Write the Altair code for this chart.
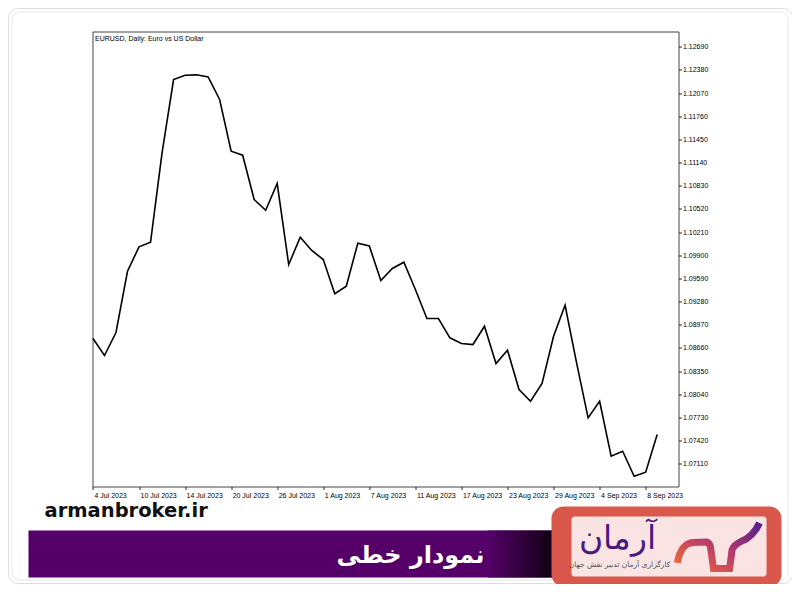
import altair as alt
import pandas as pd

# ---------------- data ----------------
dates = [
    "4 Jul 2023", "5 Jul 2023", "6 Jul 2023", "7 Jul 2023", "10 Jul 2023",
    "11 Jul 2023", "12 Jul 2023", "13 Jul 2023", "14 Jul 2023", "17 Jul 2023",
    "18 Jul 2023", "19 Jul 2023", "20 Jul 2023", "21 Jul 2023", "24 Jul 2023",
    "25 Jul 2023", "26 Jul 2023", "27 Jul 2023", "28 Jul 2023", "31 Jul 2023",
    "1 Aug 2023", "2 Aug 2023", "3 Aug 2023", "4 Aug 2023", "7 Aug 2023",
    "8 Aug 2023", "9 Aug 2023", "10 Aug 2023", "11 Aug 2023", "14 Aug 2023",
    "15 Aug 2023", "16 Aug 2023", "17 Aug 2023", "18 Aug 2023", "21 Aug 2023",
    "22 Aug 2023", "23 Aug 2023", "24 Aug 2023", "25 Aug 2023", "28 Aug 2023",
    "29 Aug 2023", "30 Aug 2023", "31 Aug 2023", "1 Sep 2023", "4 Sep 2023",
    "5 Sep 2023", "6 Sep 2023", "7 Sep 2023", "8 Sep 2023", "11 Sep 2023",
]
closes = [
    1.08786, 1.08558, 1.08866, 1.09686, 1.10013, 1.10075, 1.11271, 1.12252,
    1.12310, 1.12315, 1.12288, 1.11985, 1.11293, 1.11239, 1.10646, 1.10503,
    1.10860, 1.09776, 1.10142, 1.09964, 1.09843, 1.09385, 1.09486, 1.10061,
    1.10024, 1.09562, 1.09723, 1.09807, 1.09441, 1.09053, 1.09053, 1.08795,
    1.08719, 1.08705, 1.08950, 1.08451, 1.08629, 1.08103, 1.07946, 1.08183,
    1.08816, 1.09231, 1.08460, 1.07724, 1.07946, 1.07210, 1.07277, 1.06942,
    1.06996, 1.07501,
]
y_ticks = [1.07110, 1.07420, 1.07730, 1.08040, 1.08350, 1.08660, 1.08970,
           1.09280, 1.09590, 1.09900, 1.10210, 1.10520, 1.10830, 1.11140,
           1.11450, 1.11760, 1.12070, 1.12380, 1.12690]
x_tick_idx = list(range(0, 49, 4))
x_tick_labels = [dates[i] for i in x_tick_idx]

title_text = "EURUSD, Daily:  Euro vs US Dollar"
site_text = "armanbroker.ir"
banner_text = "نمودار خطی"
brand_text = "آرمان"
brand_sub = "کارگزاری آرمان تدبیر نقش جهان"

df = pd.DataFrame({"idx": list(range(len(closes))), "date": dates, "close": closes})

W, H = 586, 455
AXFONT = "Liberation Sans"

label_arr = "[" + ",".join("'" + s + "'" for s in x_tick_labels) + "]"

one = pd.DataFrame({"k": [0]})

def box(x, x2, y, y2, **kw):
    return alt.Chart(one).mark_rect(**kw).encode(
        x=alt.value(x), x2=alt.value(x2), y=alt.value(y), y2=alt.value(y2))

def txt(text, x, y, **kw):
    return alt.Chart(pd.DataFrame({"t": [text]})).mark_text(**kw).encode(
        text="t:N", x=alt.value(x), y=alt.value(y))

# page frame (double light-gray rounded border)
frame_outer = box(-84, 700.5, -23, 552, fill="transparent",
                  stroke="#dcdcdc", strokeWidth=1, cornerRadius=10)
frame_inner = box(-80.5, 695.5, -19.5, 548.5, fill="transparent",
                  stroke="#e6e6e6", strokeWidth=1, cornerRadius=8)

# site text
site = txt(site_text, -48, 485, font="DejaVu Sans", fontWeight="bold",
           fontSize=19.5, align="left", baseline="alphabetic", color="#111111")

# purple banner with dark fade on its right end
banner = box(-64, 460, 499, 546, fill="#540068")
banner_fade = box(395, 460, 499, 546, fill=alt.Gradient(
    gradient="linear", x1=0, x2=1, y1=0, y2=0,
    stops=[alt.GradientStop(offset=0, color="#540068"),
           alt.GradientStop(offset=1, color="#120014")]))
banner_t = txt(banner_text, 318, 524, font="DejaVu Sans", fontWeight="bold",
               fontSize=24, align="center", baseline="middle", color="white")

# logo box
logo_out = box(459, 689, 475, 555, fill="#d9584b", cornerRadius=12)
logo_in = box(479, 674, 485, 545, fill="#f9e4e3", cornerRadius=3)
logo_name = txt(brand_text, 524.5, 507, font="DejaVu Sans", fontSize=33,
                fontWeight=300, align="center", baseline="middle", color="#4a1a7e")
logo_sub = txt(brand_sub, 527, 533.5, font="DejaVu Sans", fontSize=7.5,
               align="center", baseline="middle", color="#555555")
logo_path = ("M-0.98,0.38 C-0.93,0.1 -0.8,-0.1 -0.6,-0.11 L-0.28,-0.12 "
             "Q-0.2,-0.1 -0.18,0.01 L-0.11,0.52 L0.28,0.52 L0.34,0.06 "
             "Q0.4,-0.06 0.55,-0.13 Q0.85,-0.25 1,-0.58")
logo_mark = alt.Chart(one).mark_point(
    shape=logo_path, filled=False, size=83 * 83, strokeWidth=7, opacity=1,
    stroke=alt.Gradient(
        gradient="linear", x1=0, x2=1, y1=1, y2=0,
        stops=[alt.GradientStop(offset=0, color="#f36d37"),
               alt.GradientStop(offset=0.5, color="#b53a6c"),
               alt.GradientStop(offset=1, color="#54208e")]),
).encode(x=alt.value(625.5), y=alt.value(515.5))

# chart title inside plot
chart_title = txt(title_text, 2.5, 9.5, font=AXFONT, fontSize=7, align="left",
                  baseline="alphabetic", color="#000000")

line = alt.Chart(df).mark_line(color="#000000", strokeWidth=1.6).encode(
    x=alt.X("idx:Q",
            scale=alt.Scale(domain=[-0.04, 50.85], nice=False, zero=False),
            axis=alt.Axis(values=x_tick_idx, labelExpr=label_arr + "[round(datum.value/4)]",
                          orient="bottom", title=None, grid=False, domain=False,
                          tickSize=3, tickColor="#222222", labelAlign="left",
                          labelBaseline="top", labelPadding=1.5, labelOffset=1,
                          labelFont=AXFONT, labelFontSize=7, labelColor="#000000",
                          labelOverlap=False, labelFlush=False)),
    y=alt.Y("close:Q",
            scale=alt.Scale(domain=[1.06805, 1.12895], nice=False, zero=False),
            axis=alt.Axis(values=y_ticks, format=".5f", orient="right", title=None,
                          grid=False, domain=False, tickSize=3, tickColor="#222222",
                          labelPadding=1, labelFont=AXFONT, labelFontSize=7,
                          labelColor="#000000", labelOverlap=False, labelFlush=False,
                          labelBaseline="middle")),
)

chart = alt.layer(
    frame_outer, frame_inner, site, banner, banner_fade, banner_t,
    logo_out, logo_in, logo_name, logo_sub, logo_mark, chart_title, line,
).properties(
    width=W, height=H,
    background="white",
    autosize=alt.AutoSizeParams(type="none"),
    padding={"left": 84.5, "top": 23.5, "right": 113.5, "bottom": 97.5},
).configure_view(stroke="#444444", strokeWidth=1)

chart.save("out.html", embed_options={"renderer": "svg", "actions": False})
